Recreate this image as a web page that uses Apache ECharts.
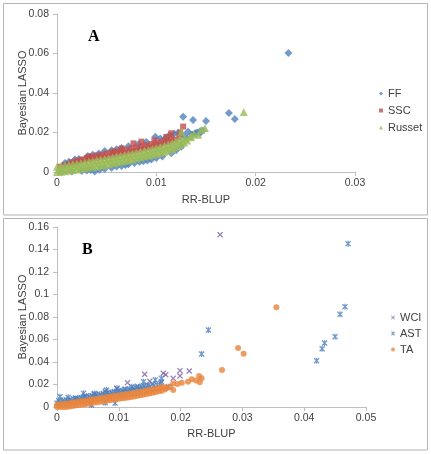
<!DOCTYPE html>
<html>
<head>
<meta charset="utf-8">
<script src="https://cdn.jsdelivr.net/npm/echarts@6/dist/echarts.min.js"></script>
<style>
html,body{margin:0;padding:0;background:#fff;}
#chart{width:431px;height:454px;}
</style>
</head>
<body>
<div id="chart"></div>
<script>
// ---------- Panel A ----------
const xTicksA = [0, 0.01, 0.02, 0.03];
const yTicksA = [0, 0.02, 0.04, 0.06, 0.08];
const seriesNamesA = ['FF', 'SSC', 'Russet'];

const ffData = [
  [0.0233,0.0603],[0.0173,0.0299],[0.0179,0.0268],[0.0150,0.0258],[0.0144,0.0198],
  [0.0127,0.0280],[0.0137,0.0263],[0.0132,0.0204],[0.0144,0.0206],[0.0139,0.0196],
  [0.0099,0.0179],[0.0109,0.0171],[0.0065,0.0122],[0.0048,0.0106],[0.0031,0.0081],
  [0.0018,0.0063],[0.0008,0.0046],[0.0082,0.0140],[0.0012,0.0052],[0.0022,0.0066],
  [0.0036,0.0087],[0.0042,0.0094],[0.0055,0.0110],[0.0060,0.0115],[0.0072,0.0130],
  [0.0090,0.0152],[0.0104,0.0170],[0.0118,0.0194],[0.0122,0.0199],[0.0113,0.0186],
  [0.0128,0.0185],[0.0136,0.0190],[0.0141,0.0200],[0.0147,0.0210],[0.0131,0.0168],
  [0.0005,0.0000],[0.0015,0.0002],[0.0025,0.0005],[0.0030,0.0008],[0.0038,0.0002],
  [0.0043,0.0012],[0.0048,0.0015],[0.0055,0.0022],[0.0060,0.0028],[0.0065,0.0031],
  [0.0072,0.0039],[0.0078,0.0045],[0.0083,0.0052],[0.0087,0.0055],[0.0091,0.0058],
  [0.0095,0.0063],[0.0100,0.0071],[0.0106,0.0078],[0.0115,0.0095],[0.0120,0.0110],
  [0.0125,0.0128],[0.0069,0.0035],[0.0034,0.0010]
];
const sscData = [
  [0.0003,0.0027],[0.0008,0.0034],[0.0013,0.0041],[0.0018,0.0048],[0.0023,0.0054],
  [0.0028,0.0059],[0.0033,0.0064],[0.0038,0.0069],[0.0043,0.0073],[0.0048,0.0077],
  [0.0053,0.0082],[0.0058,0.0087],[0.0063,0.0092],[0.0068,0.0097],[0.0073,0.0102],
  [0.0078,0.0107],[0.0083,0.0112],[0.0088,0.0119],[0.0093,0.0124],[0.0098,0.0130],
  [0.0103,0.0137],[0.0108,0.0144],[0.0113,0.0152],[0.0118,0.0163],[0.0123,0.0176],
  [0.0015,0.0049],[0.0020,0.0057],[0.0025,0.0064],[0.0030,0.0071],[0.0035,0.0078],
  [0.0040,0.0084],[0.0045,0.0088],[0.0050,0.0093],[0.0055,0.0098],[0.0060,0.0103],
  [0.0065,0.0108],[0.0070,0.0113],[0.0075,0.0118],[0.0080,0.0123],[0.0085,0.0129],
  [0.0090,0.0135],[0.0095,0.0141],[0.0100,0.0147],[0.0105,0.0155],[0.0110,0.0161],
  [0.0115,0.0170],
  [0.0127,0.0230],[0.0115,0.0196],[0.0085,0.0154],[0.0077,0.0145],[0.0065,0.0119],
  [0.0124,0.0200],[0.0098,0.0160],[0.0057,0.0104],[0.0032,0.0078],[0.0110,0.0178]
];
const russetData = [
  [0.0000,0.0000],[0.0002,0.0013],[0.0000,0.0026],[0.0004,0.0002],[0.0006,0.0017],[0.0004,0.0030],
  [0.0008,0.0004],[0.0010,0.0020],[0.0008,0.0033],[0.0012,0.0007],[0.0014,0.0023],[0.0012,0.0037],
  [0.0016,0.0010],[0.0018,0.0027],[0.0016,0.0040],[0.0020,0.0013],[0.0022,0.0030],[0.0020,0.0043],
  [0.0024,0.0016],[0.0026,0.0033],[0.0024,0.0046],[0.0028,0.0019],[0.0030,0.0036],[0.0028,0.0049],
  [0.0032,0.0023],[0.0034,0.0040],[0.0032,0.0053],[0.0036,0.0026],[0.0038,0.0043],[0.0036,0.0056],
  [0.0040,0.0029],[0.0042,0.0046],[0.0040,0.0059],[0.0044,0.0033],[0.0046,0.0050],[0.0044,0.0063],
  [0.0048,0.0036],[0.0050,0.0053],[0.0048,0.0066],[0.0052,0.0040],[0.0054,0.0057],[0.0052,0.0070],
  [0.0056,0.0044],[0.0058,0.0061],[0.0056,0.0074],[0.0060,0.0048],[0.0062,0.0065],[0.0060,0.0078],
  [0.0064,0.0052],[0.0066,0.0069],[0.0064,0.0082],[0.0068,0.0056],[0.0070,0.0073],[0.0068,0.0086],
  [0.0072,0.0060],[0.0074,0.0077],[0.0072,0.0090],[0.0076,0.0064],[0.0078,0.0081],[0.0076,0.0094],
  [0.0080,0.0068],[0.0082,0.0086],[0.0080,0.0098],[0.0084,0.0073],[0.0086,0.0090],[0.0084,0.0103],
  [0.0088,0.0078],[0.0090,0.0095],[0.0088,0.0108],[0.0092,0.0082],[0.0094,0.0100],[0.0092,0.0112],
  [0.0096,0.0087],[0.0098,0.0104],[0.0096,0.0117],[0.0100,0.0092],[0.0102,0.0110],[0.0100,0.0122],
  [0.0104,0.0097],[0.0106,0.0115],[0.0104,0.0127],[0.0108,0.0103],[0.0110,0.0121],[0.0108,0.0133],
  [0.0112,0.0109],[0.0114,0.0128],[0.0112,0.0139],[0.0116,0.0117],[0.0118,0.0137],[0.0116,0.0147],
  [0.0120,0.0127],[0.0122,0.0147],[0.0120,0.0157],[0.0124,0.0137],[0.0126,0.0157],[0.0124,0.0167],
  [0.0128,0.0150],[0.0129,0.0172],[0.0131,0.0160],[0.0134,0.0176],[0.0138,0.0193],[0.0145,0.0213],
  [0.0149,0.0223],[0.0188,0.0304],[0.0125,0.0204],[0.0135,0.0180],[0.0142,0.0188]
];

// ---------- Panel B ----------
const xTicksB = [0, 0.01, 0.02, 0.03, 0.04, 0.05];
const yTicksB = [0, 0.02, 0.04, 0.06, 0.08, 0.1, 0.12, 0.14, 0.16];
const seriesNamesB = ['WCI', 'AST', 'TA'];

const wciData = [
  [0.0264,0.1532],[0.0142,0.0291],[0.0114,0.0216],[0.0172,0.0299],[0.0176,0.0287],
  [0.0199,0.0323],[0.0199,0.0276],[0.0214,0.0320],[0.0097,0.0165],[0.0078,0.0140],
  [0.0169,0.0225],[0.0188,0.0255],[0.0155,0.0205],[0.0130,0.0185],[0.0060,0.0115],
  [0.0045,0.0095],[0.0030,0.0080],[0.0110,0.0160],[0.0150,0.0230]
];
const astData = [
  [0.0471,0.1452],[0.0466,0.0892],[0.0458,0.0824],[0.0450,0.0625],[0.0433,0.0569],
  [0.0429,0.0518],[0.0420,0.0412],[0.0245,0.0684],[0.0234,0.0471],[0.0169,0.0255],
  [0.0180,0.0180],[0.0159,0.0240],[0.0168,0.0211],[0.0140,0.0225],[0.0121,0.0180],
  [0.0080,0.0151],[0.0061,0.0121],[0.0045,0.0092],[0.0018,0.0086],[0.0005,0.0092],
  [0.0094,0.0035],[0.0078,0.0038],[0.0056,0.0018],[0.0097,0.0166],[0.0043,0.0122],
  [0.0000,0.0035],[0.0006,0.0041],[0.0012,0.0043],[0.0018,0.0050],[0.0024,0.0053],
  [0.0030,0.0062],[0.0036,0.0066],[0.0042,0.0073],[0.0048,0.0077],[0.0054,0.0084],
  [0.0060,0.0089],[0.0066,0.0097],[0.0072,0.0100],[0.0078,0.0108],[0.0084,0.0111],
  [0.0090,0.0120],[0.0096,0.0124],[0.0102,0.0131],[0.0108,0.0134],[0.0114,0.0141],
  [0.0120,0.0145],[0.0126,0.0154],[0.0132,0.0158],[0.0138,0.0167],[0.0144,0.0172],
  [0.0150,0.0182],[0.0156,0.0188],[0.0162,0.0197],
  [0.0003,0.0055],[0.0009,0.0058],[0.0015,0.0064],[0.0021,0.0067],[0.0027,0.0074],
  [0.0033,0.0078],[0.0039,0.0085],[0.0045,0.0090],[0.0051,0.0097],[0.0057,0.0101],
  [0.0063,0.0108],[0.0069,0.0113],[0.0075,0.0120],[0.0081,0.0126],[0.0087,0.0132],
  [0.0093,0.0137],[0.0099,0.0143],[0.0105,0.0149],[0.0111,0.0154],[0.0117,0.0160],
  [0.0123,0.0166],[0.0129,0.0173],[0.0135,0.0180],[0.0141,0.0186],[0.0147,0.0194]
];
const taData = [
  [0.0000,0.0000],[0.0000,0.0020],[0.0005,0.0000],[0.0005,0.0024],[0.0010,0.0000],
  [0.0010,0.0027],[0.0015,0.0001],[0.0015,0.0031],[0.0020,0.0005],[0.0020,0.0034],
  [0.0025,0.0008],[0.0025,0.0039],[0.0030,0.0013],[0.0030,0.0043],[0.0035,0.0017],
  [0.0035,0.0048],[0.0040,0.0021],[0.0040,0.0051],[0.0045,0.0025],[0.0045,0.0056],
  [0.0050,0.0030],[0.0050,0.0060],[0.0055,0.0034],[0.0055,0.0065],[0.0060,0.0039],
  [0.0060,0.0069],[0.0065,0.0043],[0.0065,0.0074],[0.0070,0.0047],[0.0070,0.0077],
  [0.0075,0.0052],[0.0075,0.0083],[0.0080,0.0056],[0.0080,0.0086],[0.0085,0.0060],
  [0.0085,0.0091],[0.0090,0.0065],[0.0090,0.0095],[0.0095,0.0069],[0.0095,0.0100],
  [0.0100,0.0073],[0.0100,0.0103],[0.0105,0.0077],[0.0105,0.0108],[0.0110,0.0081],
  [0.0110,0.0111],[0.0115,0.0085],[0.0115,0.0116],[0.0120,0.0089],[0.0120,0.0119],
  [0.0125,0.0094],[0.0125,0.0125],[0.0130,0.0099],[0.0130,0.0129],[0.0135,0.0104],
  [0.0135,0.0135],[0.0140,0.0109],[0.0140,0.0139],[0.0145,0.0115],[0.0145,0.0146],
  [0.0150,0.0121],[0.0150,0.0151],[0.0155,0.0127],[0.0155,0.0158],[0.0160,0.0133],
  [0.0160,0.0163],[0.0165,0.0139],[0.0165,0.0170],[0.0170,0.0145],[0.0170,0.0175],
  [0.0355,0.0886],[0.0293,0.0524],[0.0302,0.0474],[0.0267,0.0329],[0.0234,0.0255],
  [0.0231,0.0219],[0.0230,0.0276],[0.0218,0.0246],[0.0212,0.0225],[0.0202,0.0216],
  [0.0188,0.0210],[0.0188,0.0151],[0.0183,0.0180],[0.0175,0.0157],[0.0178,0.0170],
  [0.0195,0.0205],[0.0225,0.0235],[0.0173,0.0175]
];

// ---------- styling ----------
const FONT = '"Liberation Sans", Arial, sans-serif';
const TXT = '#404040';
const AXC = '#bfbfbf';
const colorsA = ['#4F81BD', '#C0504D', '#9BBB59'];
const colorsB = ['#7D62A0', '#4F81BD', '#E8843C'];
const xPath = 'path://M1.5,0L5,3.5L8.5,0L10,1.5L6.5,5L10,8.5L8.5,10L5,6.5L1.5,10L0,8.5L3.5,5L0,1.5Z';
const starPath = 'path://M1.5,0L5,3.5L8.5,0L10,1.5L6.5,5L10,8.5L8.5,10L5,6.5L1.5,10L0,8.5L3.5,5L0,1.5Z M4,0L6,0L6,10L4,10Z';

function valAxis(ticks, gridIndex, name, isX, gap) {
  return {
    type: 'value', gridIndex: gridIndex,
    min: ticks[0], max: ticks[ticks.length - 1], interval: ticks[1] - ticks[0],
    name: name, nameLocation: 'middle', nameGap: gap, nameMoveOverlap: false,
    nameTextStyle: { fontFamily: FONT, fontSize: 11, color: TXT },
    axisLine: { show: true, lineStyle: { color: AXC, width: 1 } },
    axisTick: { show: true, inside: false, length: 4, lineStyle: { color: AXC } },
    splitLine: { show: false },
    axisLabel: { fontFamily: FONT, fontSize: 10.5, color: TXT, margin: isX ? 6 : 8 }
  };
}

const chart = echarts.init(document.getElementById('chart'), null, { renderer: 'canvas' });
chart.setOption({
  animation: false,
  backgroundColor: '#fff',
  grid: [
    { left: 57, top: 14, width: 298, height: 158 },
    { left: 57, top: 227, width: 309, height: 180 }
  ],
  xAxis: [
    valAxis(xTicksA, 0, 'RR-BLUP', true, 22),
    valAxis(xTicksB, 1, 'RR-BLUP', true, 21)
  ],
  yAxis: [
    valAxis(yTicksA, 0, 'Bayesian LASSO', false, 29),
    valAxis(yTicksB, 1, 'Bayesian LASSO', false, 29)
  ],
  legend: [
    { data: seriesNamesA, orient: 'vertical', left: 379, top: 88, itemWidth: 4, itemHeight: 4,
      itemGap: 6, padding: 0, textStyle: { fontFamily: FONT, fontSize: 11, color: TXT } },
    { data: seriesNamesB, orient: 'vertical', left: 391, top: 312, itemWidth: 4, itemHeight: 4,
      itemGap: 5, padding: 0, textStyle: { fontFamily: FONT, fontSize: 11, color: TXT } }
  ],
  graphic: [
    { type: 'rect', shape: { x: 3.5, y: 3.5, width: 424, height: 211.5 },
      style: { fill: 'none', stroke: '#b4b4b4', lineWidth: 1 } },
    { type: 'rect', shape: { x: 3.5, y: 218.5, width: 424, height: 231.5 },
      style: { fill: 'none', stroke: '#b4b4b4', lineWidth: 1 } },
    { type: 'text', left: 88, top: 29,
      style: { text: 'A', font: 'bold 16px "Liberation Serif", "Times New Roman", serif', fill: '#000' } },
    { type: 'text', left: 82, top: 242,
      style: { text: 'B', font: 'bold 16px "Liberation Serif", "Times New Roman", serif', fill: '#000' } }
  ],
  series: [
    { name: 'FF', type: 'scatter', xAxisIndex: 0, yAxisIndex: 0, data: ffData,
      symbol: 'diamond', symbolSize: 8, itemStyle: { color: colorsA[0] } },
    { name: 'SSC', type: 'scatter', xAxisIndex: 0, yAxisIndex: 0, data: sscData,
      symbol: 'rect', symbolSize: 6, itemStyle: { color: colorsA[1] } },
    { name: 'Russet', type: 'scatter', xAxisIndex: 0, yAxisIndex: 0, data: russetData,
      symbol: 'triangle', symbolSize: 8, itemStyle: { color: colorsA[2] } },
    { name: 'WCI', type: 'scatter', xAxisIndex: 1, yAxisIndex: 1, data: wciData,
      symbol: xPath, symbolSize: 6, itemStyle: { color: colorsB[0] } },
    { name: 'AST', type: 'scatter', xAxisIndex: 1, yAxisIndex: 1, data: astData,
      symbol: starPath, symbolSize: 6, itemStyle: { color: colorsB[1] } },
    { name: 'TA', type: 'scatter', xAxisIndex: 1, yAxisIndex: 1, data: taData,
      symbol: 'circle', symbolSize: 6, itemStyle: { color: colorsB[2] } }
  ]
});
</script>
</body>
</html>
